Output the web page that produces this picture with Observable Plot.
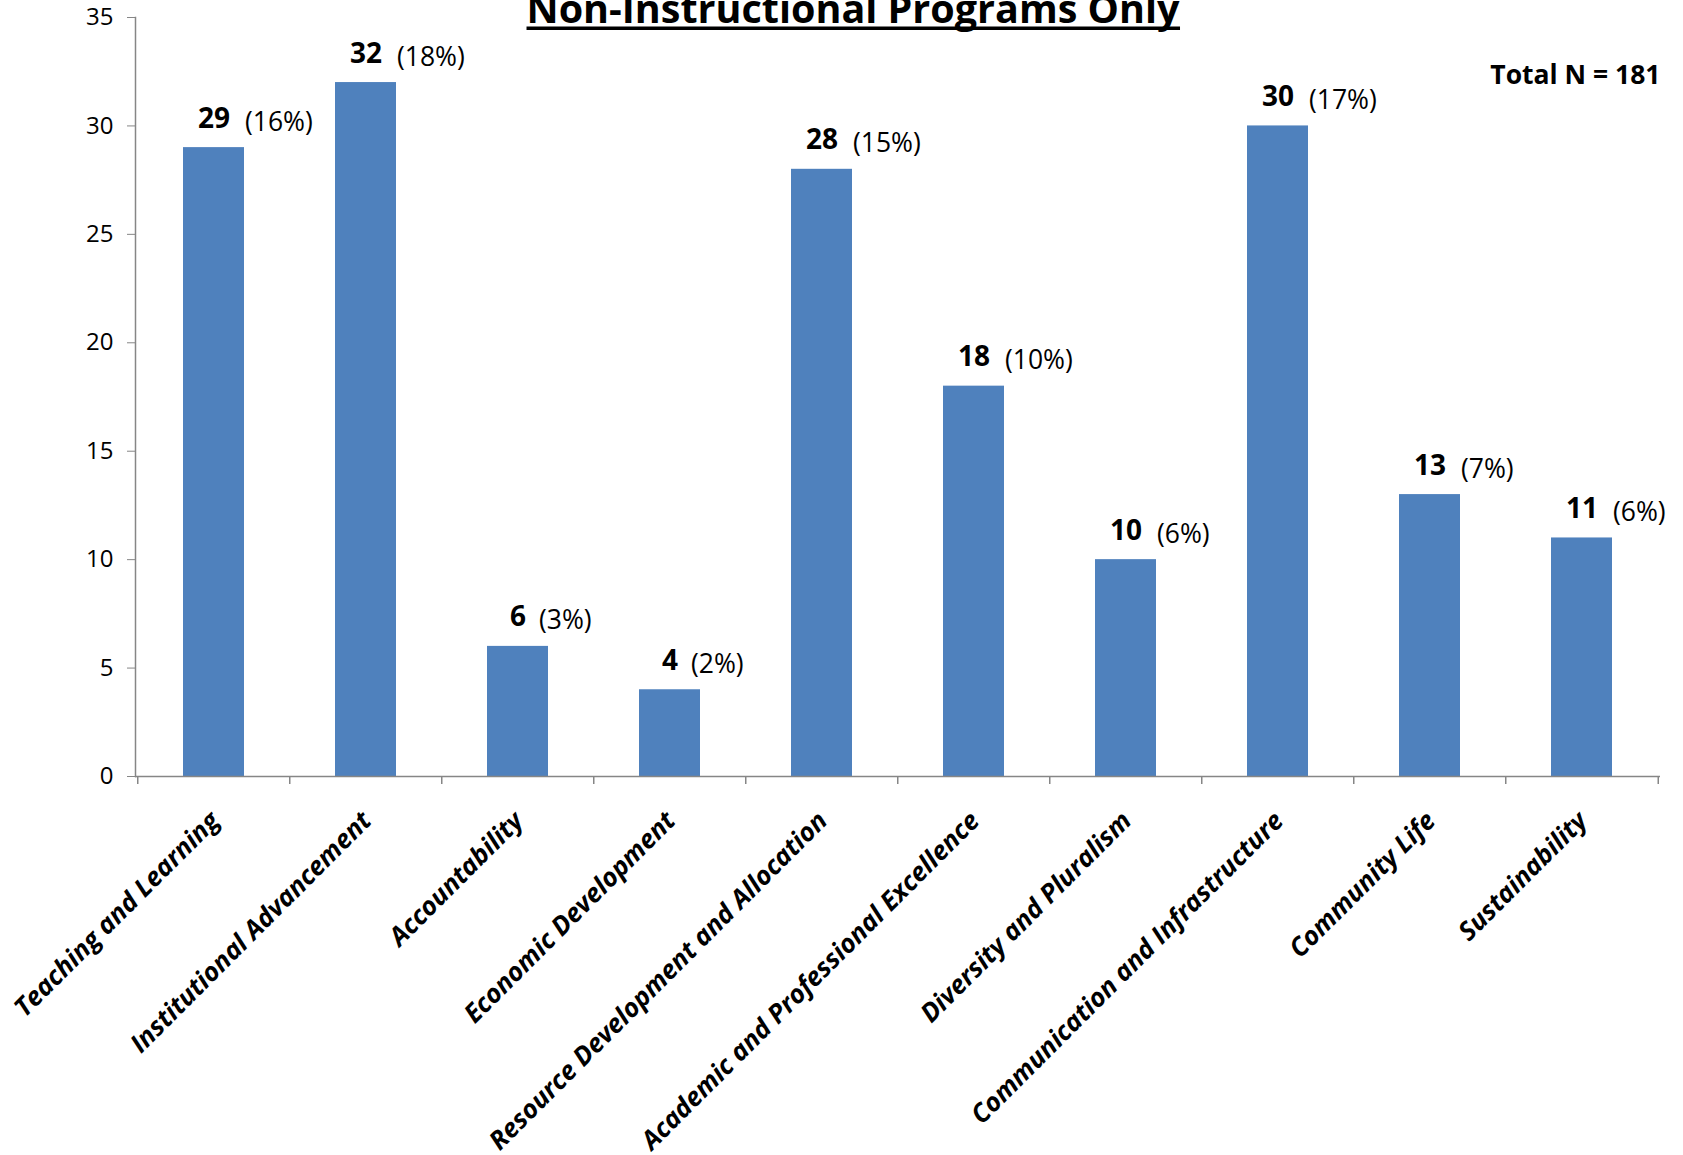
<!DOCTYPE html>
<html><head><meta charset="utf-8">
<script src="https://cdn.jsdelivr.net/npm/d3@7"></script>
<script src="https://cdn.jsdelivr.net/npm/@observablehq/plot@0.6"></script>
<style>body{margin:0;background:#fff} svg{display:block}</style>
</head><body><div id="chart"></div>
<script>
const categories = ["Teaching and Learning","Institutional Advancement","Accountability","Economic Development","Resource Development and Allocation","Academic and Professional Excellence","Diversity and Pluralism","Communication and Infrastructure","Community Life","Sustainability"];
const counts = [29, 32, 6, 4, 28, 18, 10, 30, 13, 11];
const percents = ["(16%)","(18%)","(3%)","(2%)","(15%)","(10%)","(6%)","(17%)","(7%)","(6%)"];
const yTicks = [0, 5, 10, 15, 20, 25, 30, 35];
const titleText = "Non-Instructional Programs Only";
const totalLabel = "Total N = 181";

const data = categories.map((c, i) => ({category: c, count: counts[i], pct: percents[i]}));
const W = 1683, H = 1155, mL = 135, mR = 23, mT = 17, mB = 379;
const step = (W - mL - mR) / categories.length;
const font = "'Open Sans', 'Noto Sans', sans-serif";
const axisColor = "#868686";

const chart = Plot.plot({
  width: W, height: H, marginLeft: mL, marginRight: mR, marginTop: mT, marginBottom: mB,
  style: {fontFamily: font, background: "#fff", overflow: "visible", color: "#000"},
  x: {domain: categories, paddingInner: 0.6, paddingOuter: 0.3, label: null, axis: null},
  y: {domain: [0, 35], label: null, axis: null},
  marks: [
    Plot.barY(data, {x: "category", y: "count", fill: "#4F81BD"}),
    Plot.frame({anchor: "left", stroke: axisColor, strokeWidth: 1.5}),
    Plot.ruleY([0], {stroke: axisColor, strokeWidth: 1.5}),
    Plot.axisY(yTicks, {tickSize: 8, tickPadding: 14, fontSize: 24, stroke: axisColor, fill: "#000", label: null}),
    Plot.ruleX(categories, {x: d => d, dx: -step / 2, y1: 0, y2: 0, insetBottom: -8, stroke: axisColor, strokeWidth: 1.5}),
    Plot.ruleX(categories.slice(-1), {x: d => d, dx: step / 2, y1: 0, y2: 0, insetBottom: -8, stroke: axisColor, strokeWidth: 1.5}),
    Plot.axisX({tickSize: 0, tickRotate: -45, tickPadding: 40, dx: 1, fontSize: 26, fontWeight: "bold", fontStyle: "italic", fill: "#000", label: null}),
    Plot.text(data, {x: "category", y: "count", text: d => String(d.count), dy: -20, lineAnchor: "bottom", fontSize: 28, fontWeight: "bold", fill: "#000"}),
    Plot.text(data.filter(d => d.count >= 10), {x: "category", y: "count", text: "pct", dx: 31, dy: -17, textAnchor: "start", lineAnchor: "bottom", fontSize: 26.5, fill: "#000"}),
    Plot.text(data.filter(d => d.count < 10), {x: "category", y: "count", text: "pct", dx: 21, dy: -17, textAnchor: "start", lineAnchor: "bottom", fontSize: 26.5, fill: "#000"}),
    Plot.text([titleText], {frameAnchor: "top", dx: -45, dy: 5, lineAnchor: "bottom", fontSize: 39.5, fontWeight: "bold", fill: "#000"}),
    Plot.text([totalLabel], {frameAnchor: "top-right", textAnchor: "end", lineAnchor: "bottom", dx: 0, dy: 66, fontSize: 26.5, fontWeight: "bold", fill: "#000"})
  ]
});
document.getElementById("chart").appendChild(chart);
// underline the title
d3.select(chart).selectAll("text").filter(function() { return this.textContent === titleText; }).each(function() {
  const bb = this.getBBox();
  d3.select(this.parentNode).append("rect")
    .attr("transform", this.getAttribute("transform"))
    .attr("x", bb.x).attr("width", bb.width)
    .attr("y", 4).attr("height", 3.5)
    .attr("fill", "#000");
});
</script>
</body></html>
